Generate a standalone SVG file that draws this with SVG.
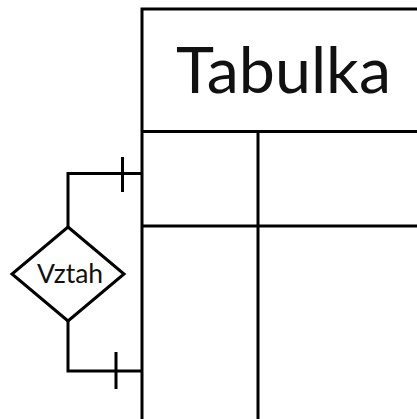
<svg xmlns="http://www.w3.org/2000/svg" width="417" height="419" viewBox="0 0 417 419">
  <style>
    .ln { stroke: #000; stroke-width: 3; fill: none; }
    .shape { stroke: #000; stroke-width: 3; fill: #fff; }
    .lbl { font-family: Lato, "Liberation Sans", sans-serif; fill: #111; text-anchor: middle; }
  </style>
  <rect width="417" height="419" fill="#fff"/>

  <!-- table entity -->
  <g id="tabulka">
    <path class="ln" d="M142,420 V9 H420 M142,131.5 H420 M142,226 H420 M258,131.5 V420"/>
    <text class="lbl" x="283.5" y="93" font-size="64.5">Tabulka</text>
  </g>

  <!-- relationship -->
  <g id="vztah">
    <polygon class="shape" points="68,227 124,274 68,321 12,274"/>
    <text class="lbl" x="70" y="283" font-size="26.5">Vztah</text>
  </g>

  <!-- connectors with "one" ticks -->
  <g id="connectors">
    <path class="ln" d="M68,227 V173.5 H142 M122.5,157 V192"/>
    <path class="ln" d="M68,321 V371 H142 M116,352 V389"/>
  </g>
</svg>
